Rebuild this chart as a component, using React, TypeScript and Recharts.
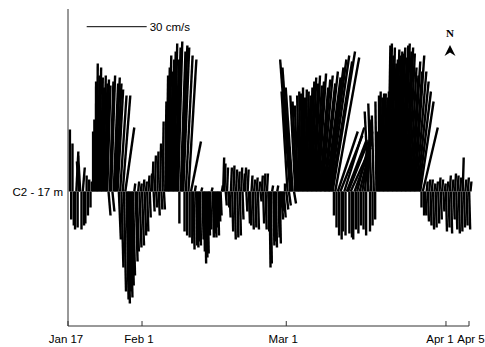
import { ComposedChart, XAxis, YAxis, ReferenceLine, Label } from "recharts";

// current sticks, one every 6 h, starting Jan 18 00:00 (day 1 after Jan 17)
const FIRST_DAY = 1;
const STEP_DAYS = 0.25;

// northward component, cm/s (4 per day)
const northCm = [
  31, -14, 24, -17,   -19, 20, -18, 15,   18, -19, 12, -17,   -16, 8, -12, 6,
  -8, 5, 30, 36,      55, 64, 58, 62,     57, 52, 58, 54,     56, 53, -12, 55,
  58, -10, 54, 57,    54, 51, -24, 48,    -38, 48, -50, 32,   -54, -56, -50, -53,
  -47, -42, 4, -35,   -30, 5, -28, 4,     -27, 6, -22, 5,     -20, 8, -13, 9,
  15, -10, 18, -8,    20, -12, 24, -9,    35, -9, 45, 58,     62, 68, 60, 66,
  70, 74, 66, 72,     75, -16, 70, 73,    72, -20, 68, -22,   66, -23, 25, -26,
  -29, 3, -27, -28,   -25, -27, 2, -24,   -30, -36, -33, -31, -22, -19, 2, -23,
  -21, -23, -18, -22, -15, -12, 3, 17,    14, -7, 12, -8,     -13, 12, -20, 13,
  -24, 11, -23, 10,   -22, 12, -14, 9,    12, -10, 11, -16,   -17, 8, -19, 6,
  -18, 7, -19, 5,     -5, 8, -16, 9,      -19, 9, -20, -38,   -36, 3, -27, -25,
  -28, 3, -23, -26,   -14, -10, -13, 4,   -9, 50, -7, 66,     62, 52, -6, 48,
  45, 43, 48, 50,     49, 52, 47, 51,     50, 48, 52, 55,     57, 54, 58, 53,
  55, 59, 52, 56,     58, 54, 60, 57,     62, 66, 68, 65,     70, -12, 67, -18,
  30, -22, 28, -24,   -20, 32, -22, 26,   25, -21, 20, -23,   -24, 22, -19, 28,
  -21, 25, -17, 30,   -19, 33, -22, 36,   40, -20, 44, -17,   38, -14, 45, 30,
  48, 50, 47, 49,     49, 47, 50, 73,     74, 68, 72, 64,     66, 71, 68, 70,
  69, 72, 67, 73,     74, 70, 72, 69,     62, 58, 65, 60,     68, 60, 55, 50,
  45, -8, 32, -12,    -12, 5, -15, 6,     -17, 6, -19, 4,     -18, 5, -16, 7,
  -14, 6, -10, 4,     -20, 5, -18, 8,     -21, 6, -14, 9,     -19, 8, -21, 7,
  -20, 17, -18, 6,    -17, 7, -19, 5,
];

// eastward component, cm/s
const eastCm = [
  0, 0, 0, 0,             0, 1, 0, -1,            -1, 0, 1, 0,            0, 0, 0, 0,
  0, 0, 0, 0,             0.2, 0.4, 0.6, 0.8,     1, 1, 1.2, 1.4,         1.5, 1.6, 1, 1.8,
  2, 1, 2.2, 2.4,         2.6, 2.8, 1, 3.2,       1, 3.8, 1, 4.5,         1, 1, 1, 1,
  1, 1, 0.5, 1,           1, 0.5, 1, 0.5,         1, 0.5, 0.8, 0.5,       0.6, 0.5, 0.5, 0.5,
  0.5, 0.5, 0.5, 0.5,     0.5, 0.5, 0.5, 0.5,     0.5, 0.5, 0.6, 0.8,     1, 1.1, 1.2, 1.3,
  1.4, 1.5, 1.7, 1.9,     2.1, 0, 2.4, 2.7,       3, 0, 3.4, 0,           4, 0, 5, 0,
  0.5, 0.5, 0.5, 0.5,     0.5, 0.5, 0.5, 0.5,     0.5, 0.5, 0.5, 0.5,     0.5, 0.5, 0.5, 0.5,
  0.5, 0.5, 0.5, 0.5,     0.5, 0.5, 0.5, 0.5,     0.5, 0.5, 0.5, 0.5,     0.5, 0.5, 0.5, 0.5,
  0.5, 0.5, 0.5, 0.5,     0.5, 0.5, 0.5, 0.5,     0.5, 0.5, 0.5, 0.5,     0.5, 0.5, 0.5, 0.5,
  0.5, 0.5, 0.5, 0.5,     0.5, 0.5, 0.5, 0.5,     0.5, 0.5, 0.5, 0.5,     0.5, 0.5, 0.5, 0.5,
  0.5, 0.5, 0.5, 0.5,     1, 1, 1, 0,             1, -3, 1, -5,           -4.5, -3.5, 1, -2.5,
  -2, -1.5, -1, -0.6,     -0.3, 0, 0.3, 0.6,      0.9, 1.2, 1.5, 1.8,     2.1, 2.4, 2.7, 3,
  3.4, 3.8, 4.2, 4.6,     5.2, 5.8, 6.5, 7.2,     8, 8.8, 9.6, 10.4,      11.2, 0, 12, 0,
  10, 0, 11, 0,           0, 10, 0, 10,           10, 0, 9, 0,            0, 8, 0, 7,
  0, 6, 0, 5,             0, 3, 0, 2,             -2, 0, -1.5, 0,         -1, 0, -0.5, -0.3,
  0, 0.2, 0.4, 0.6,       0.8, 1, 1.1, 1.2,       1.3, 1.4, 1.5, 1.6,     1.7, 1.8, 1.9, 2,
  2.1, 2.2, 2.3, 2.4,     2.5, 2.7, 2.9, 3.1,     3.3, 3.6, 3.9, 4.2,     4.6, 5, 5.5, 6,
  6.7, 0, 7.5, 0,         0.5, 0.5, 0.5, 0.5,     0.5, 0.5, 0.5, 0.5,     0.5, 0.5, 0.5, 0.5,
  0.5, 0.5, 0.5, 0.5,     0.5, 0.5, 0.5, 0.5,     0.5, 0.5, 0.5, 0.5,     0.5, 0.5, 0.5, 0.5,
  0.5, 0.5, 0.5, 0.5,     0.5, 0.5, 0.5, 0.5,
];

// days after Jan 17 00:00
const dateTicks = [0.63, 15, 43, 74, 78.47];
const dateLabels = ["Jan 17", "Feb 1", "Mar 1", "Apr 1", "Apr 5"];
const labelNudge = [-2, -3, -3, -6, 2];
const stationLabel = "C2 - 17 m";
const scaleCm = 30;

const W = 485;
const H = 347;
const MARGIN = { top: 9, right: 16, bottom: 0, left: 0 };
const Y_AXIS_W = 68;
const X_AXIS_H = 21;
const X_DOMAIN: [number, number] = [0.63, 78.47];
const Y_DOMAIN: [number, number] = [-67.25, 91.25];

// keep the sticks isotropic: 1 cm/s east spans the same pixels as 1 cm/s north
const plotW = W - MARGIN.left - MARGIN.right - Y_AXIS_W;
const plotH = H - MARGIN.top - MARGIN.bottom - X_AXIS_H;
const pxPerDay = plotW / (X_DOMAIN[1] - X_DOMAIN[0]);
const pxPerCm = plotH / (Y_DOMAIN[1] - Y_DOMAIN[0]);
const DAYS_PER_CM = pxPerCm / pxPerDay;

const sticks = northCm.map((v, i) => {
  const day = FIRST_DAY + i * STEP_DAYS;
  return { day, tipDay: day + eastCm[i] * DAYS_PER_CM, v };
});

const FONT = "'Liberation Sans', Arial, sans-serif";

function DateTick({ x, y, payload }: any) {
  const i = dateTicks.indexOf(payload.value);
  return (
    <text x={x + labelNudge[i]} y={y + 22} textAnchor="middle" fontSize={11.5} fill="#000" fontFamily={FONT}>
      {dateLabels[i]}
    </text>
  );
}

export default function App() {
  const barStart = 4.26;
  const barY = 82.4;
  return (
    <div style={{ position: "absolute", left: 0, top: 0, width: W, height: H, background: "#fff" }}>
      <ComposedChart width={W} height={H} margin={MARGIN} data={[{ day: X_DOMAIN[0] }, { day: X_DOMAIN[1] }]}>
        <XAxis
          type="number"
          dataKey="day"
          domain={X_DOMAIN}
          allowDataOverflow
          ticks={dateTicks}
          interval={0}
          height={X_AXIS_H}
          tickSize={-5}
          tickMargin={0}
          tick={<DateTick />}
          axisLine={{ stroke: "#333" }}
          tickLine={{ stroke: "#333" }}
        />
        <YAxis
          type="number"
          domain={Y_DOMAIN}
          allowDataOverflow
          ticks={[0]}
          width={Y_AXIS_W}
          tickSize={5}
          tickMargin={0}
          tickLine={false}
          tickFormatter={() => stationLabel}
          tick={{ fontSize: 11.5, fill: "#000", fontFamily: FONT }}
          axisLine={{ stroke: "#333" }}
        />
        {sticks.map((s, i) => (
          <ReferenceLine
            key={i}
            segment={[
              { x: s.day, y: 0 },
              { x: s.tipDay, y: s.v },
            ]}
            stroke="#000"
            strokeWidth={2.4}
            ifOverflow="visible"
          />
        ))}
        <ReferenceLine
          segment={[
            { x: barStart, y: barY },
            { x: barStart + scaleCm * DAYS_PER_CM, y: barY },
          ]}
          stroke="#000"
          strokeWidth={1}
          ifOverflow="visible"
        >
          <Label value={`${scaleCm} cm/s`} position="right" offset={3} fontSize={11.5} fill="#000" fontFamily={FONT} />
        </ReferenceLine>
      </ComposedChart>
      <svg width={30} height={40} style={{ position: "absolute", left: 435, top: 22 }}>
        <text x={15} y={15} textAnchor="middle" fontSize={11} fontWeight="bold" fontFamily="'Liberation Serif', 'Times New Roman', serif" fill="#000">
          N
        </text>
        <polygon points="15,23 20.5,34 15,30.5 9.5,34" fill="#000" />
      </svg>
    </div>
  );
}
